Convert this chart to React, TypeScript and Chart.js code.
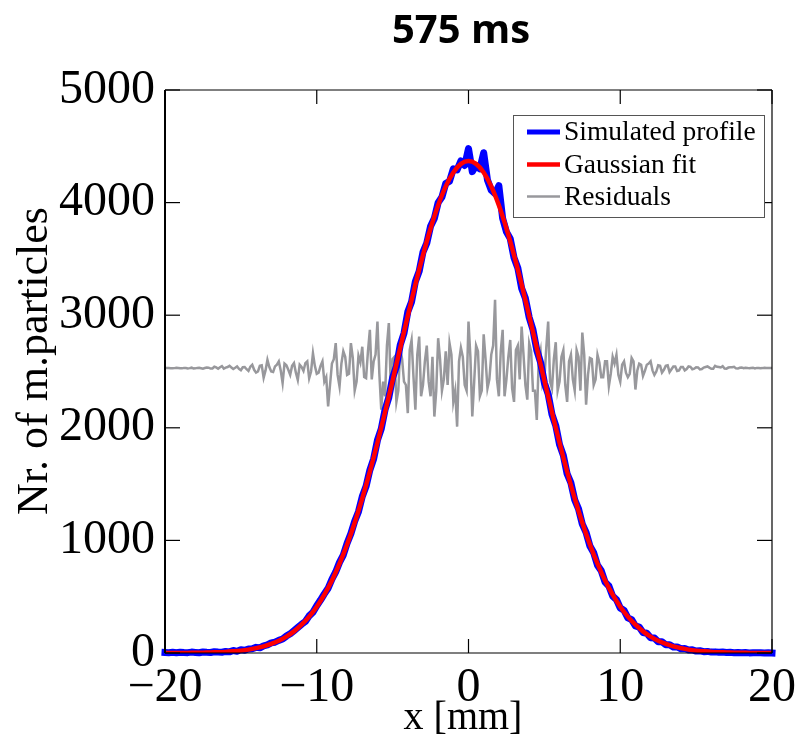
import React, { useEffect, useRef } from "react";
import { Chart, registerables } from "chart.js";

Chart.register(...registerables);

// ---------- data ----------
const TITLE = "575 ms";
const X_LABEL = "x [mm]";
const Y_LABEL = "Nr. of m.particles";
const X_TICKS = [-20, -10, 0, 10, 20];
const Y_TICKS = [0, 1000, 2000, 3000, 4000, 5000];
const SERIES_NAMES = ["Simulated profile", "Gaussian fit", "Residuals"];

// sampling of the profile: x from -20 mm, every 0.25 mm
const FINE_START = -20;
const FINE_STEP = 0.25;
// sampling of the fitted curve: x from -20 mm, every 0.5 mm
const FIT_START = -20;
const FIT_STEP = 0.5;
// residuals: two interleaved samplings (on and between the 0.25 mm grid)
const RES_A_START = -20;
const RES_B_START = -19.875;
const RES_STEP = 0.25;
// residuals are drawn shifted up to this level
const RESIDUAL_OFFSET = 2530;

const simulatedProfile = [
  5, 3, 6, 2, 7, 4, 3, 8, 5, 2, 9, 6, 4, 11, 8, 7, 14, 10, 22, 15, 28,
  24, 36, 38, 50, 46, 64, 72, 90, 96, 112, 124, 150, 170, 198, 226, 255, 280, 330, 362, 420,
  470, 525, 575, 655, 720, 805, 870, 975, 1060, 1170, 1255, 1390, 1480, 1625, 1725, 1890, 1990, 2160, 2270, 2445,
  2545, 2735, 2840, 3030, 3120, 3300, 3390, 3560, 3640, 3790, 3860, 4000, 4050, 4170, 4190, 4300, 4290, 4370, 4330, 4480,
  4275, 4330, 4300, 4443, 4200, 4110, 4080, 4150, 3860, 3740, 3680, 3510, 3420, 3240, 3150, 2980, 2870, 2690, 2580, 2400,
  2300, 2120, 2020, 1850, 1755, 1590, 1510, 1360, 1280, 1145, 1070, 950, 890, 780, 730, 630, 595, 505, 475, 400,
  378, 312, 296, 240, 230, 182, 176, 136, 133, 100, 100, 74, 74, 53, 54, 38, 39, 26, 28, 17,
  20, 12, 14, 8, 10, 6, 8, 4, 6, 3, 5, 2, 4, 1, 3, 2, 3, 1, 2, 0,
];

const gaussianFit = [
  0, 0, 1, 1, 2, 3, 5, 7, 10, 15, 21, 30, 43, 59, 81, 109, 145, 192, 251, 323,
  411, 518, 644, 793, 963, 1157, 1373, 1610, 1867, 2138, 2421, 2708, 2994, 3272, 3533, 3770, 3976, 4144, 4268, 4344,
  4370,
  4344, 4268, 4144, 3976, 3770, 3533, 3272, 2994, 2708, 2421, 2138, 1867, 1610, 1373, 1157, 963, 793, 644, 518, 411,
  323, 251, 192, 145, 109, 81, 59, 43, 30, 21, 15, 10, 7, 5, 3, 2, 1, 1, 0, 0,
];

const residualsA = [
  0, 2, -2, 3, -1, 2, -3, 4, -2, 3, -5, 6, -4, 12, -6, 18, 5, 20, -8, 15, -18,
  10, -25, 30, -40, 20, -86, 74, -30, 15, 59, -133, 25, -60, 44, -104, 10, 44, -90, 133, -50,
  20, -120, -340, 40, 222, -163, 150, -60, 222, -200, 110, 190, -90, 340, 60, 414, -370, -250, 400, 80,
  -300, 180, -120, -400, 250, -370, 280, -150, 200, -250, -430, 266, -200, 150, 222, -300, -520, 180, -150, 414,
  -430, 200, -250, 300, -180, 120, 607, -250, 340, -100, 250, -300, 200, 370, -150, 220, -200, -460, 150, -100,
  414, -180, 230, -120, 160, -300, 120, -200, 100, 315, -325, 90, -150, 118, -80, 60, -160, 100, 118, -120,
  60, -80, 90, -190, 40, -70, 30, 60, -60, 25, -40, 20, -35, 15, -25, 10, -20, 15, -10, 8,
  -12, 5, 15, -6, 20, 10, 18, -5, 8, 12, -4, 6, 3, -2, 4, 2, -1, 3, 0, 1,
];

const residualsB = [
  1, -1, 0, 2, -2, 1, 0, -3, 2, -1, 1, 4, -3, 6, 8, -4, 10, 6, 3, -6,
  8, -10, 12, -15, -30, 25, -20, 10, -35, 30, -20, 40, -15, 20, -40, 30, -25, 60, -30, 20,
  -40, 60, -80, -150, 80, -60, 40, 100, -50, 90, -120, 50, -80, 150, -100, 120, -50, -120, 200, -150,
  100, -200, 80, -150, 160, -80, 120, -250, 60, -120, 100, -200, 80, -100, -150, 120, -200, 60, 100, -200,
  100, -120, 150, -200, 80, -100, 200, -100, 150, -250, 100, -180, 160, -100, 120, -280, 150, -200, 60, -150,
  180, -120, 80, -200, 100, -150, 60, -100, 160, -200, 120, -60, 80, -100, 50, -80, 60, -50, 40, -60,
  30, -40, -50, 60, -20, 30, -25, 40, -20, -30, 20, -15, 25, -10, 15, -20, 10, -8, 12, -5,
  6, -8, 10, 4, -5, 12, 6, -3, 5, 8, -2, 3, -1, 2, 1, -2, 2, 0, 1, 0,
];

// ---------- helpers ----------
const toPoints = (values: number[], start: number, step: number, shift = 0) =>
  values.map((v, i) => ({ x: start + i * step, y: v + shift }));

const residualPoints = () =>
  [
    ...toPoints(residualsA, RES_A_START, RES_STEP, RESIDUAL_OFFSET),
    ...toPoints(residualsB, RES_B_START, RES_STEP, RESIDUAL_OFFSET),
  ].sort((p, q) => p.x - q.x);

const minus = (v: number) => (v < 0 ? "\u2212" + Math.abs(v) : String(v));

const SERIF = "'Liberation Serif', 'Times New Roman', serif";

const framePlugin = {
  id: "matlabFrame",
  afterDatasetsDraw(chart: any) {
    const { ctx, chartArea: a, scales } = chart;
    ctx.save();
    ctx.strokeStyle = "#000";
    const seg = (x1: number, y1: number, x2: number, y2: number, w: number) => {
      ctx.lineWidth = w;
      ctx.beginPath();
      ctx.moveTo(x1, y1);
      ctx.lineTo(x2, y2);
      ctx.stroke();
    };
    seg(a.left, a.top, a.right, a.top, 1);
    seg(a.right, a.top, a.right, a.bottom, 1.2);
    seg(a.left, a.bottom, a.right, a.bottom, 1.2);
    seg(a.left, a.top, a.left, a.bottom, 2);
    for (const v of X_TICKS) {
      const px = scales.x.getPixelForValue(v);
      seg(px, a.bottom, px, a.bottom - 14, 1.2);
      seg(px, a.top, px, a.top + 14, 1.2);
    }
    for (const v of Y_TICKS) {
      const py = scales.y.getPixelForValue(v);
      seg(a.left, py, a.left + 15, py, 1.2);
      seg(a.right, py, a.right - 15, py, 1.2);
    }
    ctx.restore();
  },
  afterDraw(chart: any) {
    const { ctx, chartArea: a } = chart;
    ctx.save();
    ctx.fillStyle = "#000";
    // title
    ctx.font = "bold 40px 'Open Sans', 'Liberation Sans', sans-serif";
    ctx.textAlign = "center";
    ctx.textBaseline = "middle";
    ctx.fillText(TITLE, 461, 32);

    // axis titles
    ctx.font = `40px ${SERIF}`;
    ctx.fillText(X_LABEL, 463, 718);
    ctx.save();
    ctx.translate(35, 361);
    ctx.rotate(-Math.PI / 2);
    ctx.font = `44px ${SERIF}`;
    ctx.fillText(Y_LABEL, 0, 0);
    ctx.restore();

    // legend box
    const bw = 251;
    const bh = 102;
    const bx = a.right - 8 - bw;
    const by = a.top + 25;
    ctx.fillStyle = "#fff";
    ctx.fillRect(bx, by, bw, bh);
    ctx.strokeStyle = "#555";
    ctx.lineWidth = 1;
    ctx.strokeRect(bx + 0.5, by + 0.5, bw, bh);
    const rows = [17, 49.5, 81.5];
    ctx.font = `27.5px ${SERIF}`;
    ctx.textAlign = "left";
    ctx.textBaseline = "middle";
    const legendItems = [0, 1, 2].map((i) => chart.data.datasets.find((d: any) => d.label === SERIES_NAMES[i]));
    legendItems.forEach((ds: any, i: number) => {
      const y = by + rows[i];
      ctx.strokeStyle = ds.borderColor;
      ctx.lineWidth = Math.min(ds.borderWidth, 5);
      ctx.beginPath();
      ctx.moveTo(bx + 14, y);
      ctx.lineTo(bx + 47, y);
      ctx.stroke();
      ctx.fillStyle = "#000";
      ctx.fillText(ds.label, bx + 51, y + 1);
    });
    ctx.restore();
  },
};

export default function App() {
  const ref = useRef<HTMLCanvasElement | null>(null);

  useEffect(() => {
    if (!ref.current) return;
    const chart = new Chart(ref.current, {
      type: "line",
      data: {
        datasets: [
          {
            label: SERIES_NAMES[2],
            data: residualPoints(),
            borderColor: "#98989c",
            borderWidth: 2.5,
            pointRadius: 0,
            tension: 0,
            order: 3,
          },
          {
            label: SERIES_NAMES[0],
            data: toPoints(simulatedProfile, FINE_START, FINE_STEP),
            borderColor: "#0000ff",
            borderWidth: 7,
            borderCapStyle: "square",
            borderJoinStyle: "round",
            pointRadius: 0,
            tension: 0,
            clip: false,
            order: 2,
          },
          {
            label: SERIES_NAMES[1],
            data: toPoints(gaussianFit, FIT_START, FIT_STEP),
            borderColor: "#ff0000",
            borderWidth: 4.5,
            borderJoinStyle: "round",
            pointRadius: 0,
            tension: 0.3,
            order: 1,
          },
        ],
      },
      options: {
        animation: false,
        responsive: false,
        maintainAspectRatio: false,
        layout: { padding: { top: 90, right: 24, left: 0, bottom: 0 } },
        plugins: {
          legend: { display: false },
          title: { display: false },
          tooltip: { enabled: false },
        },
        scales: {
          x: {
            type: "linear",
            min: -20,
            max: 20,
            afterFit: (s: any) => {
              s.height = 95;
              s.paddingLeft = 0;
              s.paddingRight = 0;
            },
            afterBuildTicks: (s: any) => {
              s.ticks = X_TICKS.map((v) => ({ value: v }));
            },
            grid: { display: false, drawTicks: false, tickLength: 0 },
            border: { display: false },
            ticks: {
              autoSkip: false,
              maxRotation: 0,
              padding: 7,
              color: "#000",
              font: { family: SERIF, size: 48 },
              callback: (v: any) => minus(Number(v)),
            },
            title: { display: false },
          },
          y: {
            type: "linear",
            min: 0,
            max: 5000,
            afterFit: (s: any) => {
              s.width = 165;
              s.paddingTop = 0;
              s.paddingBottom = 0;
            },
            afterBuildTicks: (s: any) => {
              s.ticks = Y_TICKS.map((v) => ({ value: v }));
            },
            grid: { display: false, drawTicks: false, tickLength: 0 },
            border: { display: false },
            ticks: {
              autoSkip: false,
              padding: 10,
              color: "#000",
              font: { family: SERIF, size: 48 },
              callback: (v: any) => minus(Number(v)),
            },
            title: { display: false },
          },
        },
      },
      plugins: [framePlugin],
    });
    return () => chart.destroy();
  }, []);

  return (
    <div style={{ position: "absolute", left: 0, top: 0, width: 796, height: 748, background: "#fff" }}>
      <canvas ref={ref} width={796} height={748} style={{ display: "block" }} />
    </div>
  );
}
